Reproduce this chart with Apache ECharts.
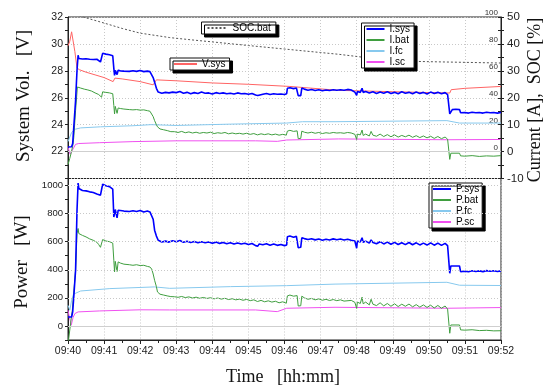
<!DOCTYPE html>
<html><head><meta charset="utf-8">
<script src="https://cdn.jsdelivr.net/npm/echarts@6/dist/echarts.min.js"></script>
<style>html,body{margin:0;padding:0;background:#fff}#c{width:548px;height:389px}</style>
</head><body><div id="c"></div>
<script>
// time in minutes after 09:40
const timeLabels = ['09:40','09:41','09:42','09:43','09:44','09:45','09:46','09:47','09:48','09:49','09:50','09:51','09:52'];
const vTicks = [22,24,26,28,30,32];
const socTicks = [0,20,40,60,80,100];
const pTicks = [0,200,400,600,800,1000];

const socBat = [[0.2,102],[0.42,100],[1,95.5],[1.5,91.5],[2,88],[2.5,86],[2.82,84.7],[3.5,82.8],[4,81.5],[5,78.8],[6,76.2],[7,73.6],[7.5,72.3],[8.09,70.4],[8.59,68],[9,67.4],[10,66.8],[11,66.3],[12,65.8]];

const vSys = [[0,29.86],[0.05,30.2],[0.1,30.9],[0.12,30.85],[0.19,29.44],[0.25,28.2],[0.32,28.08],[0.5,27.9],[0.75,27.7],[1.0,27.5],[1.25,27.2],[1.3,27.46],[1.5,27.4],[2.0,27.2],[2.36,26.96],[2.45,27.33],[3.0,27.26],[4.0,27.1],[5.0,27.0],[6.15,26.84],[7.5,26.55],[9,26.45],[10.58,26.35],[10.62,26.6],[11.0,26.7],[12,26.84]];

const iSys = [[0,1.7],[0.05,1.7],[0.1,1.8],[0.13,3],[0.16,9],[0.21,19],[0.25,30.2],[0.28,35.8],[0.3,34.6],[0.35,34.9],[0.4,34.4],[0.45,34.7],[0.5,34.5],[0.55,34.8],[0.6,34.3],[0.65,34.6],[0.7,34.2],[0.75,34.0],[0.8,34.3],[0.85,33.8],[0.9,33.3],[0.93,33.2],[0.96,36.5],[1.0,36.7],[1.05,36.2],[1.1,36.6],[1.15,36.0],[1.2,36.1],[1.24,35.6],[1.27,30.9],[1.29,28.3],[1.31,30.2],[1.33,30.4],[1.36,28.6],[1.39,30.2],[1.45,30.0],[1.5,30.3],[1.55,29.9],[1.6,30.1],[1.7,29.8],[1.75,30.2],[1.8,30.0],[1.9,29.8],[2.0,30.1],[2.1,29.7],[2.2,29.9],[2.27,29.7],[2.32,29.2],[2.36,27.5],[2.4,25.8],[2.45,23.5],[2.5,22.1],[2.6,21.7],[2.7,22.0],[2.8,21.8],[2.9,22.1],[3.0,21.9],[3.1,22.3],[3.2,21.7],[3.3,22.0],[3.4,21.5],[3.5,21.9],[3.6,21.6],[3.7,22.1],[3.8,21.7],[3.9,21.8],[4.0,21.4],[4.1,21.9],[4.2,21.6],[4.3,21.8],[4.4,21.5],[4.5,21.7],[4.6,21.4],[4.7,21.8],[4.8,21.5],[4.9,21.6],[5.0,21.3],[5.1,21.6],[5.2,21.0],[5.26,20.8],[5.3,21.5],[5.4,21.3],[5.5,21.6],[5.6,21.2],[5.7,21.5],[5.8,21.3],[5.9,21.4],[6.0,21.2],[6.06,21.5],[6.08,23.5],[6.15,23.7],[6.25,23.4],[6.33,23.6],[6.36,23.2],[6.38,20.8],[6.45,20.8],[6.48,23.6],[6.55,23.2],[6.65,22.8],[6.75,23.1],[6.85,22.7],[6.95,23.0],[7.05,22.6],[7.15,22.9],[7.25,22.7],[7.35,23.0],[7.45,22.8],[7.55,23.0],[7.65,22.8],[7.75,23.1],[7.85,22.9],[7.95,22.1],[8.0,20.9],[8.02,22.3],[8.1,22.0],[8.15,23.5],[8.18,22.0],[8.25,22.3],[8.35,21.8],[8.45,22.2],[8.55,21.6],[8.65,22.1],[8.75,21.7],[8.85,22.2],[8.95,21.6],[9.05,22.0],[9.15,21.5],[9.25,22.2],[9.35,21.7],[9.45,22.0],[9.55,21.5],[9.65,22.1],[9.75,21.6],[9.85,22.0],[9.95,21.4],[10.05,22.1],[10.15,21.6],[10.25,22.0],[10.35,21.5],[10.45,21.9],[10.52,21.2],[10.56,20.5],[10.58,14.0],[10.6,13.6],[10.65,15.6],[10.75,15.7],[10.85,15.6],[10.88,14.4],[11.0,14.5],[11.1,14.3],[11.2,14.6],[11.3,14.4],[11.4,14.5],[11.5,14.3],[11.6,14.6],[11.7,14.4],[11.8,14.5],[11.9,14.3],[12.0,14.5]];

const iBat = [[0,-4.8],[0.05,-2.5],[0.09,-0.4],[0.13,2],[0.16,5.2],[0.21,15.2],[0.26,24],[0.28,24.2],[0.3,23.4],[0.35,23.6],[0.4,23.0],[0.45,23.2],[0.5,22.7],[0.55,22.9],[0.6,22.4],[0.65,22.5],[0.7,22.0],[0.75,21.8],[0.8,21.9],[0.85,21.2],[0.9,20.6],[0.93,20.2],[0.96,22.2],[1.0,22.7],[1.05,22.0],[1.1,22.4],[1.15,21.8],[1.2,22.1],[1.24,21.5],[1.27,17.1],[1.29,14.0],[1.31,16.8],[1.33,16.5],[1.36,14.2],[1.39,16.2],[1.45,16.0],[1.5,16.3],[1.55,15.8],[1.6,16.0],[1.7,15.6],[1.75,15.9],[1.8,15.5],[1.9,15.6],[2.0,15.4],[2.1,15.5],[2.2,15.2],[2.27,15.0],[2.32,14.6],[2.36,13.0],[2.4,11.5],[2.45,10.0],[2.48,9.2],[2.55,8.4],[2.65,8.1],[2.75,7.8],[2.85,7.4],[2.95,7.4],[3.05,7.1],[3.15,7.5],[3.25,7.0],[3.35,7.3],[3.45,6.9],[3.55,7.2],[3.65,6.8],[3.75,7.1],[3.85,6.9],[3.95,7.2],[4.05,6.7],[4.15,7.0],[4.25,6.8],[4.35,7.1],[4.45,6.6],[4.55,6.9],[4.65,6.6],[4.75,6.8],[4.85,6.5],[4.95,6.8],[5.05,6.4],[5.15,6.7],[5.25,6.2],[5.35,6.6],[5.45,6.3],[5.55,6.6],[5.65,6.2],[5.75,6.5],[5.85,6.1],[5.95,6.4],[6.05,6.1],[6.08,7.6],[6.15,7.9],[6.25,7.5],[6.35,7.7],[6.38,4.8],[6.45,4.9],[6.48,7.6],[6.55,7.2],[6.65,6.9],[6.75,7.2],[6.85,6.8],[6.95,7.1],[7.05,6.7],[7.15,7.0],[7.25,6.8],[7.35,7.1],[7.45,6.9],[7.55,7.0],[7.65,6.8],[7.75,7.1],[7.85,6.9],[7.95,6.4],[8.0,4.5],[8.02,6.5],[8.1,6.2],[8.15,8.0],[8.18,6.0],[8.25,6.5],[8.35,5.8],[8.4,7.5],[8.45,6.1],[8.55,5.7],[8.65,6.5],[8.75,5.6],[8.85,6.3],[8.95,5.5],[9.05,6.2],[9.15,5.4],[9.25,6.0],[9.35,5.5],[9.45,6.1],[9.55,5.3],[9.65,5.9],[9.75,5.2],[9.85,5.8],[9.95,5.1],[10.05,5.7],[10.15,4.9],[10.25,5.6],[10.35,4.8],[10.45,5.4],[10.52,4.6],[10.56,4.5],[10.58,-2.9],[10.61,-0.6],[10.85,-0.6],[10.88,-1.6],[11.0,-1.7],[11.2,-1.5],[11.4,-1.8],[11.6,-1.6],[11.8,-1.7],[12.0,-1.5]];

const iFc = [[0,3.7],[0.05,3.2],[0.1,7.1],[0.15,7.8],[0.2,8.3],[0.35,8.8],[0.9,9.2],[1.8,9.6],[2.3,10.0],[3.0,9.7],[4.5,10.2],[6.06,10.6],[6.5,11.1],[7.4,11.1],[10.5,11.5],[10.85,10.6],[12,10.6]];

const iSc = [[0,1.5],[0.06,-1.0],[0.12,0.5],[0.21,2.7],[0.3,3.0],[0.88,3.3],[1.8,3.7],[3.0,4.0],[5.2,4.0],[5.8,3.8],[6.06,4.3],[7.5,4.7],[10.5,4.4],[12,4.5]];

const pSys = [[0,64],[0.1,64],[0.13,100],[0.16,207],[0.21,397],[0.25,824],[0.28,1018],[0.3,979],[0.35,985],[0.4,965],[0.45,975],[0.5,962],[0.55,970],[0.6,955],[0.65,960],[0.7,950],[0.75,947],[0.8,940],[0.85,935],[0.9,931],[0.93,924],[0.96,1009],[1.0,1005],[1.05,998],[1.1,1010],[1.15,992],[1.2,990],[1.24,975],[1.27,776],[1.29,765],[1.31,829],[1.33,830],[1.36,770],[1.39,824],[1.45,822],[1.5,828],[1.55,818],[1.6,825],[1.7,815],[1.75,826],[1.8,820],[1.9,815],[2.0,822],[2.1,812],[2.2,818],[2.27,812],[2.32,800],[2.36,760],[2.4,682],[2.45,640],[2.5,610],[2.6,598],[2.7,604],[2.8,597],[2.9,606],[3.0,599],[3.1,608],[3.2,596],[3.3,603],[3.4,594],[3.5,601],[3.6,592],[3.7,600],[3.8,593],[3.9,598],[4.0,589],[4.1,597],[4.2,588],[4.3,595],[4.4,586],[4.5,593],[4.6,584],[4.7,591],[4.8,583],[4.9,589],[5.0,580],[5.1,587],[5.2,572],[5.26,568],[5.3,584],[5.4,578],[5.5,585],[5.6,575],[5.7,583],[5.8,574],[5.9,580],[6.0,572],[6.06,577],[6.08,635],[6.15,640],[6.25,632],[6.33,638],[6.36,628],[6.38,558],[6.45,560],[6.48,628],[6.55,622],[6.65,615],[6.75,621],[6.85,613],[6.95,619],[7.05,611],[7.15,618],[7.25,612],[7.35,620],[7.45,614],[7.55,619],[7.65,612],[7.75,618],[7.85,610],[7.95,605],[8.0,553],[8.02,605],[8.1,598],[8.15,628],[8.18,596],[8.25,604],[8.35,590],[8.4,612],[8.45,594],[8.55,585],[8.65,600],[8.75,584],[8.85,597],[8.95,582],[9.05,595],[9.15,580],[9.25,592],[9.35,579],[9.45,594],[9.55,578],[9.65,592],[9.75,577],[9.85,590],[9.95,576],[10.05,592],[10.15,575],[10.25,590],[10.35,574],[10.45,588],[10.52,572],[10.56,560],[10.58,375],[10.61,427],[10.85,427],[10.88,387],[11.0,390],[11.1,386],[11.2,393],[11.3,388],[11.4,392],[11.5,387],[11.6,394],[11.7,389],[11.8,393],[11.9,388],[12.0,392]];

const pBat = [[0,-130],[0.06,-7],[0.12,112],[0.21,397],[0.25,658],[0.28,694],[0.3,658],[0.35,660],[0.4,645],[0.45,648],[0.5,634],[0.55,636],[0.6,620],[0.65,622],[0.7,610],[0.75,600],[0.8,596],[0.85,580],[0.9,560],[0.93,551],[0.96,615],[1.0,622],[1.05,605],[1.1,618],[1.15,600],[1.2,610],[1.24,590],[1.27,468],[1.29,385],[1.31,460],[1.33,455],[1.36,388],[1.39,456],[1.45,448],[1.5,452],[1.55,440],[1.6,446],[1.7,436],[1.75,444],[1.8,432],[1.9,436],[2.0,430],[2.1,432],[2.2,424],[2.27,420],[2.32,405],[2.36,370],[2.4,325],[2.45,280],[2.48,242],[2.55,226],[2.65,220],[2.75,214],[2.85,209],[2.95,208],[3.05,204],[3.15,210],[3.25,202],[3.35,207],[3.45,199],[3.55,205],[3.65,197],[3.75,203],[3.85,196],[3.95,201],[4.05,193],[4.15,199],[4.25,191],[4.35,197],[4.45,188],[4.55,194],[4.65,186],[4.75,191],[4.85,183],[4.95,189],[5.05,180],[5.15,186],[5.25,174],[5.35,182],[5.45,172],[5.55,179],[5.65,170],[5.75,176],[5.85,165],[5.95,172],[6.05,162],[6.08,214],[6.15,220],[6.25,212],[6.35,216],[6.38,142],[6.45,144],[6.48,212],[6.55,200],[6.65,190],[6.75,196],[6.85,186],[6.95,193],[7.05,183],[7.15,190],[7.25,181],[7.35,188],[7.45,180],[7.55,186],[7.65,177],[7.85,182],[7.95,168],[8.0,125],[8.02,170],[8.1,160],[8.15,205],[8.18,158],[8.25,170],[8.35,150],[8.4,190],[8.45,155],[8.55,145],[8.65,165],[8.75,143],[8.85,160],[8.95,140],[9.05,158],[9.15,138],[9.25,155],[9.35,140],[9.45,156],[9.55,136],[9.65,152],[9.75,134],[9.85,150],[9.95,132],[10.05,148],[10.15,128],[10.25,146],[10.35,126],[10.45,142],[10.52,120],[10.56,118],[10.58,-52],[10.61,7],[10.85,7],[10.88,-28],[11.0,-30],[11.2,-27],[11.4,-33],[11.6,-31],[11.8,-35],[12.0,-34]];

const pFc = [[0,147],[0.05,112],[0.1,183],[0.15,226],[0.2,235],[0.35,249],[1.16,266],[2.4,278],[2.82,268],[4.5,280],[6.06,287],[7.4,298],[10.5,311],[10.85,290],[12,288]];

const pSc = [[0,112],[0.03,70],[0.06,41],[0.09,5],[0.14,60],[0.19,88],[0.28,100],[0.88,107],[2.0,115],[2.82,114],[5.2,114],[5.8,102],[6.06,126],[7.4,133],[10.5,126],[12,131]];

const FONT = 'Liberation Sans, Arial, sans-serif';
const SERIF = 'Liberation Serif, Times New Roman, serif';
const C = {sys:'#0000ff', bat:'#3f9e3f', fc:'#87c9ee', sc:'#f050f0', v:'#ff6464', soc:'#555555'};

const chart = echarts.init(document.getElementById('c'), null, {renderer:'canvas'});

const gridLine = {show:true, lineStyle:{color:'#c8c8c8', type:[1,2], width:1}};
const legendBase = {
  orient:'vertical', backgroundColor:'#fff', borderColor:'#111', borderWidth:1,
  shadowColor:'#000', shadowOffsetX:3, shadowOffsetY:3, shadowBlur:0,
  itemWidth:18, itemHeight:10, itemGap:1, borderRadius:0,
  itemStyle:{color:'rgba(0,0,0,0)', borderColor:'rgba(0,0,0,0)', borderWidth:0, opacity:0},
  textStyle:{fontFamily:FONT, fontSize:10, color:'#000', lineHeight:10}, selectedMode:false
};

function line(name, data, color, xi, yi, width, extra) {
  return Object.assign({
    name, type:'line', data, xAxisIndex:xi, yAxisIndex:yi, symbol:'none', showSymbol:false,
    lineStyle:{color, width}, itemStyle:{color}, silent:true, animation:false, clip:true, z:3
  }, extra||{});
}

const option = {
  animation:false,
  grid:[
    {left:68, top:17, width:433, height:161.5, show:true, borderColor:'#222', borderWidth:1},
    {left:68, top:178.5, width:433, height:161.5, show:true, borderColor:'#222', borderWidth:1}
  ],
  xAxis:[
    {type:'value', gridIndex:0, min:0, max:12, interval:1,
     axisLine:{show:true, lineStyle:{color:'#222'}}, axisTick:{show:false}, axisLabel:{show:false},
     splitLine:gridLine},
    {type:'value', gridIndex:1, min:0, max:12, interval:1,
     axisLine:{show:true, onZero:false, lineStyle:{color:'#222'}},
     axisTick:{show:true, length:4, lineStyle:{color:'#222'}},
     minorTick:{show:true, splitNumber:2, length:3, lineStyle:{color:'#222'}},
     axisLabel:{fontFamily:FONT, fontSize:10.5, color:'#222', margin:6, formatter:v=>timeLabels[Math.round(v)]},
     splitLine:gridLine}
  ],
  yAxis:[
    {type:'value', gridIndex:0, position:'left', min:20, max:32, interval:2,
     axisLine:{show:true, onZero:false, lineStyle:{color:'#222'}},
     axisTick:{show:true, length:3, lineStyle:{color:'#222'}},
     minorTick:{show:true, splitNumber:2, length:3, lineStyle:{color:'#222'}},
     axisLabel:{fontFamily:FONT, fontSize:10.5, color:'#222', margin:5, formatter:v=>vTicks.includes(v)?String(v):''},
     splitLine:gridLine},
    {type:'value', gridIndex:0, position:'right', min:-10, max:50, interval:10,
     axisLine:{show:true, onZero:false, lineStyle:{color:'#222'}},
     axisTick:{show:true, length:3, lineStyle:{color:'#222'}},
     minorTick:{show:true, splitNumber:2, length:3, lineStyle:{color:'#222'}},
     axisLabel:{fontFamily:FONT, fontSize:11.5, color:'#222', margin:6},
     splitLine:{show:false}},
    {type:'value', gridIndex:0, position:'right', min:-20, max:100, interval:20,
     axisLine:{show:false, onZero:false},
     axisTick:{show:true, inside:true, length:3, lineStyle:{color:'#222'}},
     minorTick:{show:true, splitNumber:2, length:3, lineStyle:{color:'#222'}},
     axisLabel:{inside:true, fontFamily:FONT, fontSize:8, color:'#333', margin:3, verticalAlign:'bottom',
       formatter:v=>socTicks.includes(v)?String(v):''},
     splitLine:{show:false}},
    {type:'value', gridIndex:1, position:'left', min:-100, max:1050, interval:100,
     axisLine:{show:true, onZero:false, lineStyle:{color:'#222'}},
     axisTick:{show:true, length:3, lineStyle:{color:'#222'}},
     axisLabel:{fontFamily:FONT, fontSize:9.5, color:'#222', margin:5, formatter:v=>pTicks.includes(v)?String(v):''},
     splitLine:{show:false}}
  ],
  legend:[
    Object.assign({}, legendBase, {data:['SOC.bat'], left:201.5, top:22, padding:[1,5,1,5], itemWidth:20}),
    Object.assign({}, legendBase, {data:['V.sys'], left:170, top:58, padding:[1,4,1,3], itemWidth:23}),
    Object.assign({}, legendBase, {data:['I.sys','I.bat','I.fc','I.sc'], left:361.5, top:23, padding:[1,4,1,4]}),
    Object.assign({}, legendBase, {data:['P.sys','P.bat','P.fc','P.sc'], left:429, top:183, padding:[1,3,1,3]})
  ],
  series:[
    line('SOC.bat', socBat, C.soc, 0, 2, 1, {lineStyle:{color:C.soc, width:1, type:[2,2]}}),
    line('V.sys', vSys, C.v, 0, 0, 1),
    line('I.fc', iFc, C.fc, 0, 1, 1, {markLine:{silent:true, symbol:'none', label:{show:false}, animation:false,
      lineStyle:{color:'#cfcfcf', type:'solid', width:1}, data:[{yAxis:0}]}}),
    line('I.sc', iSc, C.sc, 0, 1, 1),
    line('I.bat', iBat, C.bat, 0, 1, 1),
    line('I.sys', iSys, C.sys, 0, 1, 1.6),
    line('P.fc', pFc, C.fc, 1, 3, 1, {markLine:{silent:true, symbol:'none', label:{show:false}, animation:false,
      lineStyle:{color:'#c8c8c8', type:[1,2], width:1}, data:pTicks.filter(v=>v>0).map(v=>({yAxis:v}))}}),
    line('P.sc', pSc, C.sc, 1, 3, 1, {markLine:{silent:true, symbol:'none', label:{show:false}, animation:false,
      lineStyle:{color:'#cfcfcf', type:'solid', width:1}, data:[{yAxis:0}]}}),
    line('P.bat', pBat, C.bat, 1, 3, 1),
    line('P.sys', pSys, C.sys, 1, 3, 1.6)
  ],
  graphic:[
    {type:'text', x:24, y:96, rotation:Math.PI/2, style:{text:'System Vol.   [V]', font:'19px '+SERIF, fill:'#111', align:'center', verticalAlign:'middle'}},
    {type:'text', x:22, y:262, rotation:Math.PI/2, style:{text:'Power   [W]', font:'19px '+SERIF, fill:'#111', align:'center', verticalAlign:'middle'}},
    {type:'text', x:535, y:100, rotation:Math.PI/2, style:{text:'Current [A],  SOC [%]', font:'18px '+SERIF, fill:'#111', align:'center', verticalAlign:'middle'}},
    {type:'text', x:283, y:377, style:{text:'Time   [hh:mm]', font:'18px '+SERIF, fill:'#111', align:'center', verticalAlign:'middle'}}
  ]
};
chart.setOption(option);
</script></body></html>
